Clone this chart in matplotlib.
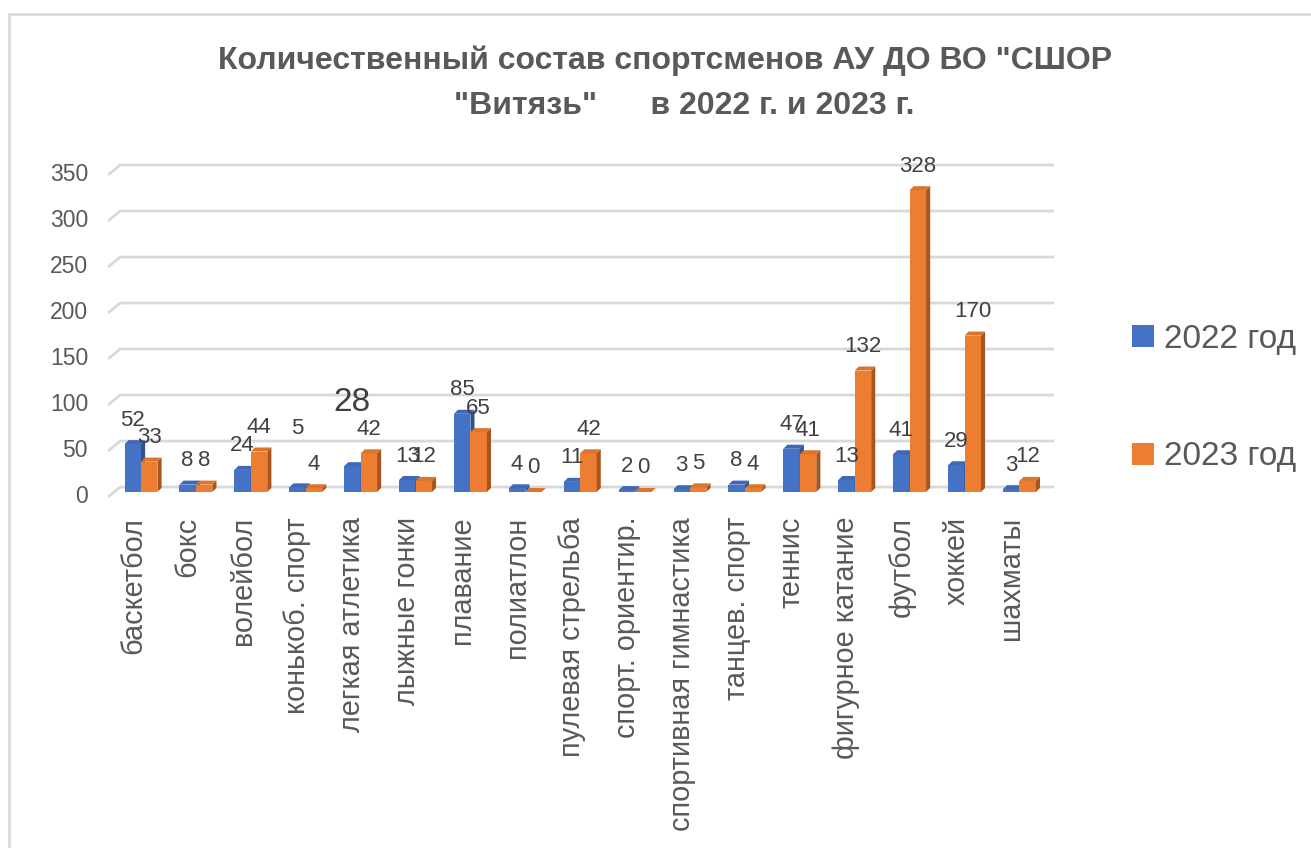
import matplotlib
matplotlib.use("Agg")
import matplotlib.pyplot as plt
from matplotlib.patches import Rectangle, Polygon, Patch
import numpy as np

plt.rcParams['font.family'] = ['Liberation Sans', 'DejaVu Sans']

# данные
categories = ['баскетбол', 'бокс', 'волейбол', 'конькоб. спорт', 'легкая атлетика',
              'лыжные гонки', 'плавание', 'полиатлон', 'пулевая стрельба',
              'спорт. ориентир.', 'спортивная гимнастика', 'танцев. спорт', 'теннис',
              'фигурное катание', 'футбол', 'хоккей', 'шахматы']
values_2022 = [52, 8, 24, 5, 28, 13, 85, 4, 11, 2, 3, 8, 47, 13, 41, 29, 3]
values_2023 = [33, 8, 44, 4, 42, 12, 65, 0, 42, 0, 5, 4, 41, 132, 328, 170, 12]
series_names = ['2022 год', '2023 год']
yticks = [0, 50, 100, 150, 200, 250, 300, 350]

# стиль
TEXT = '#595959'
LABEL = '#404040'
GRID = '#D9D9D9'
front_col = ['#4472C4', '#ED7D31']
top_col = ['#3F69B8', '#DE732B']
side_col = ['#2F528F', '#A6561F']
W = 0.30          # ширина столбца (в категориях)
DX = 0.075        # глубина по x
DY = 4.4          # глубина по y (в единицах значений)
WALL = 5.4        # смещение задней стенки / передней оси

W_PX, H_PX = 1311, 848
fig = plt.figure(figsize=(W_PX / 100, H_PX / 100), dpi=100)

# оси: x=0 -> 141px, шаг 54.9px ; y=0 -> 492px, 0.92 px/ед.
x_lo, x_hi = -0.7, 16.7
y_lo, y_hi = -8, 362
px_x0, px_dx = 141, 54.9
px_y0, px_dy = 492, 0.92
left = (px_x0 + x_lo * px_dx) / W_PX
width = (x_hi - x_lo) * px_dx / W_PX
bottom = (H_PX - (px_y0 - y_lo * px_dy)) / H_PX
height = (y_hi - y_lo) * px_dy / H_PX
ax = fig.add_axes([left, bottom, width, height])
ax.set_xlim(x_lo, x_hi)
ax.set_ylim(y_lo, y_hi)
ax.axis('off')

# рамка диаграммы
fig.patches.append(Rectangle((9 / W_PX, -0.1), 1.2, (H_PX - 14) / H_PX + 0.1,
                             transform=fig.transFigure, fill=False,
                             edgecolor=GRID, lw=2, zorder=0))

# линии сетки (задняя стенка + диагональ к передней оси)
n = len(categories)
for v in yticks:
    ax.plot([-0.6, -0.38, n - 1 + 0.63], [v - WALL, v + WALL, v + WALL],
            color=GRID, lw=2, zorder=1, clip_on=False, solid_capstyle='butt')
    ax.text(-0.965, v - WALL, str(v), ha='right', va='center',
            fontsize=16.5, color=TEXT, clip_on=False)

# подписи категорий
for i, c in enumerate(categories):
    ax.text(i - 0.15, -27, c, rotation=90, ha='center', va='top',
            fontsize=20.8, color=TEXT, clip_on=False)

# ручные сдвиги подписей (px) и размер
nudge = {(0, 3): 35, (0, 4): 40}
big = {(0, 4): 24}

for s, vals in enumerate([values_2022, values_2023]):
    for i, h in enumerate(vals):
        x0 = i - W if s == 0 else i
        x1 = x0 + W
        z = 3 + i * 0.01 + s * 0.001
        ax.add_patch(Rectangle((x0, 0), W, h, facecolor=front_col[s],
                               edgecolor='none', zorder=z))
        ax.add_patch(Polygon([(x0, h), (x1, h), (x1 + DX, h + DY), (x0 + DX, h + DY)],
                             closed=True, facecolor=top_col[s], edgecolor='none',
                             zorder=z))
        ax.add_patch(Polygon([(x1, 0), (x1 + DX, DY), (x1 + DX, h + DY), (x1, h)],
                             closed=True, facecolor=side_col[s], edgecolor='none',
                             zorder=z))
        off = 17.3 + nudge.get((s, i), 0) * 0.72
        ax.annotate(str(h), (x0 + W / 2, h), xytext=(0, off),
                    textcoords='offset points', ha='center', va='center',
                    fontsize=big.get((s, i), 16), color=LABEL, zorder=10)

# заголовок
fig.text(665 / W_PX, 1 - 61 / H_PX,
         'Количественный состав спортсменов АУ ДО ВО "СШОР',
         ha='center', va='center', fontsize=23, fontweight='bold', color=TEXT)
fig.text(684 / W_PX, 1 - 106 / H_PX,
         '"Витязь"      в 2022 г. и 2023 г.',
         ha='center', va='center', fontsize=23, fontweight='bold', color=TEXT)

# легенда
handles = [Patch(facecolor=front_col[k], edgecolor='none', label=series_names[k])
           for k in range(2)]
fig.legend(handles=handles, loc='center left',
           bbox_to_anchor=(1132 / W_PX, 1 - 398 / H_PX), frameon=False,
           fontsize=24, labelcolor=TEXT, handlelength=0.65, handleheight=0.65,
           handletextpad=0.3, labelspacing=2.6, borderpad=0, borderaxespad=0)

fig.savefig('out.png', dpi=100, facecolor='white')
